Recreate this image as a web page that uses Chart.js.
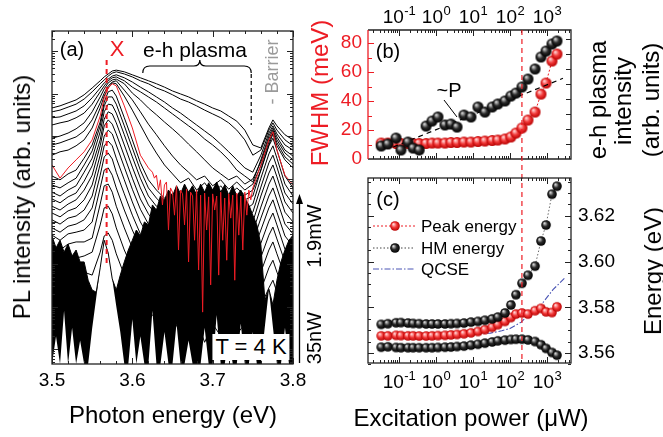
<!DOCTYPE html>
<html>
<head>
<meta charset="utf-8">
<script src="https://cdn.jsdelivr.net/npm/chart.js@4.4.1/dist/chart.umd.min.js"></script>
<style>
  html, body { margin: 0; padding: 0; background: #fff; }
  #wrap { position: relative; width: 663px; height: 437px; overflow: hidden; font-family: "Liberation Sans", Arial, sans-serif; }
  canvas { position: absolute; left: 0; top: 0; }
  .lab { position: absolute; white-space: nowrap; line-height: 1; transform: translate(-50%, -50%); color: #000; }
  .rot { transform: translate(-50%, -50%) rotate(-90deg); }
  .left { transform: translate(0, -50%); }
</style>
</head>
<body>
<div id="wrap">
  <canvas id="ca" width="663" height="437"></canvas>
  <canvas id="cb" width="663" height="437"></canvas>
  <canvas id="cc" width="663" height="437"></canvas>

  <!-- panel (a) -->
  <div class="lab" style="left:72px;top:49px;font-size:20px">(a)</div>
  <div class="lab" style="left:117px;top:49px;font-size:22px;color:#ed1c24">X</div>
  <div class="lab" style="left:195px;top:49px;font-size:21px">e-h plasma</div>
  <div class="lab rot" style="left:272px;top:72px;font-size:18px;color:#9a9a9a">- Barrier</div>
  <div class="lab" style="left:251px;top:347px;font-size:22px;background:#fff;padding:2px 3px">T = 4 K</div>
  <div class="lab rot" style="left:314px;top:236px;font-size:20px">1.9mW</div>
  <div class="lab rot" style="left:314px;top:338px;font-size:20px">35nW</div>
  <div class="lab" style="left:173px;top:415px;font-size:24px">Photon energy (eV)</div>
  <div class="lab rot" style="left:22px;top:197px;font-size:24px">PL intensity (arb. units)</div>

  <!-- panel (b) -->
  <div class="lab rot" style="left:320px;top:93px;font-size:24px;color:#ed1c24">FWHM (meV)</div>
  <div class="lab" style="left:388px;top:51px;font-size:20px">(b)</div>
  <div class="lab" style="left:449px;top:90px;font-size:20px">~P</div>
  <div class="lab rot" style="left:598px;top:100px;font-size:24px">e-h plasma</div>
  <div class="lab rot" style="left:623px;top:101px;font-size:24px">intensity</div>
  <div class="lab rot" style="left:651px;top:100px;font-size:24px">(arb. units)</div>

  <!-- panel (c) -->
  <div class="lab" style="left:388px;top:199px;font-size:20px">(c)</div>
  <div class="lab left" style="left:421px;top:226px;font-size:17px">Peak energy</div>
  <div class="lab left" style="left:421px;top:248px;font-size:17px">HM energy</div>
  <div class="lab left" style="left:421px;top:269px;font-size:17px">QCSE</div>
  <div class="lab rot" style="left:653px;top:271px;font-size:24px">Energy (eV)</div>
  <div class="lab" style="left:471px;top:418px;font-size:24px">Excitation power (μW)</div>
</div>

<script>
// ---------- panel (a): PL spectra, log10 of intensity ----------
const energy = [3.50, 3.51, 3.52, 3.53, 3.54, 3.55, 3.56, 3.565, 3.57, 3.575, 3.58, 3.59, 3.60, 3.61, 3.62, 3.63, 3.64,
  3.65, 3.66, 3.67, 3.68, 3.69, 3.70, 3.71, 3.72, 3.73, 3.74, 3.75, 3.76, 3.77, 3.775, 3.78, 3.79, 3.80];

// highlighted spectrum (red), sampled finer where it is noisy
const redEnergy = [3.50, 3.51, 3.52, 3.53, 3.54, 3.55, 3.56, 3.565, 3.57, 3.575, 3.58, 3.59, 3.60, 3.61, 3.62,
  3.625, 3.6275, 3.63, 3.6325, 3.635, 3.6375, 3.64, 3.6425, 3.645, 3.6475, 3.65, 3.6525, 3.655, 3.6575, 3.66, 3.6625,
  3.665, 3.6675, 3.67, 3.6725, 3.675, 3.6775, 3.68, 3.6825, 3.685, 3.6875, 3.69, 3.6925, 3.695, 3.6975, 3.70, 3.7025,
  3.705, 3.7075, 3.71, 3.7125, 3.715, 3.7175, 3.72, 3.7225, 3.725, 3.7275, 3.73, 3.7325, 3.735, 3.7375, 3.74, 3.7425,
  3.745, 3.7475, 3.75, 3.76, 3.77, 3.775, 3.78, 3.79, 3.80];
const specRed = [4.33, 4.02, 4.26, 4.45, 4.64, 4.92, 5.48, 5.91, 6.14, 6.24, 6.19, 5.72, 5.20, 4.56, 4.26,
  4.16, 4.02, 4.09, 3.74, 3.98, 3.39, 3.86, 3.93, 2.80, 3.79, 3.69, 3.15, 3.84, 2.33, 3.74, 3.65,
  2.92, 3.76, 2.05, 3.69, 3.60, 2.56, 3.74, 1.86, 3.62, 0.87, 3.67, 2.80, 3.58, 1.51, 3.65, 3.27,
  3.60, 1.74, 3.69, 2.56, 3.55, 2.09, 3.65, 3.08, 3.62, 1.62, 3.67, 2.68, 3.60, 2.33, 3.69, 3.15,
  3.74, 3.51, 3.79, 4.33, 4.92, 5.11, 4.68, 4.09, 3.86];

// black spectra, from 1.9 mW downwards
const spec00 = [5.67, 5.72, 5.79, 5.86, 5.98, 6.14, 6.31, 6.40, 6.47, 6.54, 6.56, 6.52, 6.45, 6.38, 6.31, 6.24, 6.16, 6.07, 6.00, 5.93, 5.84, 5.76, 5.67, 5.60, 5.48, 5.36, 5.15, 4.80, 4.73, 5.20, 5.39, 5.25, 5.04, 4.92];
const spec01 = [5.58, 5.62, 5.69, 5.76, 5.88, 6.05, 6.24, 6.33, 6.42, 6.49, 6.52, 6.47, 6.40, 6.31, 6.24, 6.14, 6.07, 5.98, 5.88, 5.81, 5.72, 5.62, 5.53, 5.44, 5.32, 5.15, 4.92, 4.56, 4.68, 5.15, 5.32, 5.15, 4.92, 4.78];
const spec02 = [5.44, 5.46, 5.53, 5.60, 5.72, 5.91, 6.14, 6.26, 6.35, 6.42, 6.45, 6.38, 6.28, 6.16, 6.05, 5.93, 5.81, 5.67, 5.55, 5.41, 5.27, 5.13, 4.99, 4.82, 4.64, 4.45, 4.26, 4.16, 4.56, 5.08, 5.25, 5.06, 4.80, 4.68];
const spec03 = [5.27, 5.32, 5.36, 5.44, 5.55, 5.76, 6.05, 6.19, 6.31, 6.38, 6.40, 6.31, 6.16, 6.05, 5.93, 5.81, 5.67, 5.53, 5.39, 5.25, 5.11, 4.94, 4.80, 4.64, 4.45, 4.21, 4.07, 3.93, 4.45, 5.01, 5.20, 4.99, 4.68, 4.54];
const spec04 = [4.96, 5.01, 5.08, 5.18, 5.32, 5.58, 5.93, 6.12, 6.26, 6.33, 6.35, 6.24, 6.02, 5.86, 5.67, 5.51, 5.34, 5.18, 5.01, 4.82, 4.64, 4.45, 4.26, 4.12, 3.98, 4.07, 3.88, 4.00, 4.40, 4.94, 5.15, 4.92, 4.61, 4.45];
const spec05 = [4.80, 4.85, 4.92, 4.99, 5.13, 5.39, 5.79, 6.02, 6.19, 6.28, 6.31, 6.09, 5.86, 5.58, 5.29, 5.04, 4.78, 4.54, 4.33, 4.16, 3.98, 4.07, 3.84, 3.98, 3.76, 3.93, 3.74, 3.88, 4.31, 4.87, 5.11, 4.85, 4.52, 4.35];
const spec06 = [4.56, 4.64, 4.68, 4.78, 4.92, 5.20, 5.67, 5.95, 6.14, 6.26, 6.24, 5.95, 5.62, 5.27, 4.92, 4.61, 4.33, 4.12, 3.91, 4.02, 3.74, 3.91, 3.65, 3.84, 3.60, 3.79, 3.62, 3.74, 4.21, 4.80, 5.06, 4.78, 4.45, 4.26];
const spec08 = [4.07, 3.98, 4.12, 4.21, 4.49, 4.80, 5.34, 5.81, 6.05, 6.09, 5.95, 5.44, 4.92, 4.38, 3.98, 3.74, 3.55, 3.39, 3.60, 3.27, 3.51, 3.15, 3.46, 3.22, 3.55, 3.31, 3.51, 3.60, 4.21, 4.78, 4.96, 4.68, 4.07, 3.79];
const spec09 = [3.86, 3.79, 3.91, 4.02, 4.33, 4.66, 5.25, 5.72, 5.93, 5.93, 5.76, 5.25, 4.73, 4.21, 3.79, 3.55, 3.36, 3.22, 3.41, 3.04, 3.32, 2.94, 3.27, 2.99, 3.36, 3.08, 3.27, 3.41, 4.02, 4.59, 4.78, 4.49, 3.88, 3.60];
const spec10 = [3.69, 3.60, 3.74, 3.84, 4.16, 4.49, 5.11, 5.58, 5.76, 5.74, 5.55, 5.04, 4.52, 4.02, 3.60, 3.36, 3.18, 2.99, 3.22, 2.85, 3.13, 2.75, 3.08, 2.80, 3.18, 2.89, 3.08, 3.22, 3.81, 4.38, 4.56, 4.28, 3.67, 3.41];
const spec11 = [3.53, 3.44, 3.58, 3.67, 3.95, 4.31, 4.92, 5.41, 5.58, 5.53, 5.32, 4.80, 4.28, 3.79, 3.39, 3.15, 2.96, 2.78, 3.01, 2.61, 2.92, 2.52, 2.85, 2.56, 2.96, 2.66, 2.85, 2.99, 3.60, 4.14, 4.33, 4.05, 3.46, 3.20];
const spec12 = [3.36, 3.27, 3.41, 3.51, 3.74, 4.09, 4.78, 5.25, 5.39, 5.29, 5.06, 4.54, 4.02, 3.53, 3.18, 2.92, 2.73, 2.54, 2.78, 2.38, 2.68, 2.28, 2.61, 2.33, 2.73, 2.42, 2.61, 2.75, 3.34, 3.88, 4.07, 3.79, 3.22, 2.99];
const spec13 = [3.20, 3.11, 3.25, 3.32, 3.51, 3.86, 4.56, 5.01, 5.15, 5.06, 4.80, 4.28, 3.76, 3.29, 2.94, 2.68, 2.49, 2.31, 2.54, 2.14, 2.45, 2.05, 2.38, 2.09, 2.49, 2.19, 2.38, 2.52, 3.08, 3.60, 3.79, 3.51, 2.94, 2.71];
const spec14 = [3.04, 2.94, 3.08, 3.13, 3.27, 3.60, 4.35, 4.78, 4.89, 4.78, 4.49, 3.98, 3.46, 2.99, 2.66, 2.42, 2.24, 2.05, 2.28, 1.91, 2.21, 1.81, 2.14, 1.86, 2.26, 1.95, 2.14, 2.28, 2.80, 3.32, 3.51, 3.22, 2.66, 2.42];
const spec15 = [2.85, 2.75, 2.89, 2.94, 3.04, 3.32, 4.09, 4.52, 4.61, 4.47, 4.16, 3.65, 3.15, 2.71, 2.38, 2.14, 1.95, 1.76, 2.05, 1.62, 1.95, 1.53, 1.86, 1.58, 2.00, 1.67, 1.86, 2.00, 2.49, 3.01, 3.20, 2.92, 2.35, 2.14];
const spec16 = [2.68, 2.56, 2.71, 2.75, 2.80, 2.99, 3.79, 4.21, 4.26, 4.09, 3.79, 3.27, 2.80, 2.38, 2.09, 1.86, 1.67, 1.44, 1.76, 1.34, 1.67, 1.25, 1.58, 1.29, 1.72, 1.39, 1.58, 1.72, 2.16, 2.68, 2.87, 2.59, 2.05, 1.86];
const spec17 = [2.45, 2.33, 2.47, 2.52, 2.52, 2.61, 3.41, 3.84, 3.88, 3.69, 3.36, 2.85, 2.38, 2.00, 1.72, 1.53, 1.34, 1.15, 1.48, 1.06, 1.39, 0.96, 1.29, 1.01, 1.44, 1.11, 1.29, 1.44, 1.81, 2.33, 2.52, 2.24, 1.72, 1.53];
const spec18 = [2.21, 2.05, 2.19, 2.14, 2.19, 2.28, 2.92, 3.32, 3.36, 3.18, 2.85, 2.33, 1.91, 1.58, 1.34, 1.15, 0.96, 0.78, 1.15, 0.68, 1.06, 0.59, 0.96, 0.68, 1.11, 0.73, 0.96, 1.11, 1.39, 1.91, 2.09, 1.81, 1.34, 1.15];
const spec19 = [1.91, 1.72, 1.86, 1.76, 1.81, 1.74, 2.28, 2.66, 2.73, 2.56, 2.24, 1.74, 1.34, 1.06, 0.87, 0.73, 0.54, 0.35, 0.78, 0.26, 0.68, 0.16, 0.59, 0.31, 0.73, 0.35, 0.59, 0.73, 1.01, 1.44, 1.62, 1.34, 0.92, 0.73];

// dense noise of the low-power spectra: upper and lower edge of the dark band
const noiseEnergy = [3.500, 3.505, 3.510, 3.515, 3.520, 3.525, 3.530, 3.535, 3.540, 3.545, 3.550, 3.555, 3.560, 3.565,
  3.570, 3.575, 3.580, 3.585, 3.590, 3.595, 3.600, 3.605, 3.610, 3.615, 3.620, 3.625, 3.630, 3.635, 3.640, 3.645, 3.650,
  3.655, 3.660, 3.665, 3.670, 3.675, 3.680, 3.685, 3.690, 3.695, 3.700, 3.705, 3.710, 3.715, 3.720, 3.725, 3.730, 3.735,
  3.740, 3.745, 3.750, 3.755, 3.760, 3.765, 3.770, 3.775, 3.780, 3.785, 3.790, 3.795, 3.800];
const noiseTop = [2.66, 2.38, 2.56, 2.28, 2.47, 2.19, 2.33, 2.05, 2.05, 1.62, 1.39, 1.34, 1.91, 2.56, 2.26, 1.65, 1.39,
  1.74, 2.05, 2.33, 2.56, 2.80, 2.66, 2.99, 2.92, 3.39, 3.27, 3.60, 3.51, 3.74, 3.60, 3.84, 3.65, 3.88, 3.69, 3.84, 3.62,
  3.88, 3.69, 3.91, 3.74, 3.93, 3.69, 3.86, 3.62, 3.84, 3.60, 3.74, 3.55, 3.39, 3.15, 2.92, 2.45, 1.15, 1.41, 1.04, 1.62,
  2.05, 2.33, 2.56, 2.68];
const noiseBottom = [-0.35, 0.30, -0.35, 0.90, -0.35, 0.50, -0.35, 0.20, -0.35, -0.35, 0.49, 1.20, 1.91, 2.56, 2.26,
  1.65, 1.01, 0.40, -0.35, -0.35, 0.70, -0.35, 0.30, -0.35, -0.35, 0.90, -0.35, -0.35, 0.40, -0.35, -0.35, 0.60,
  -0.35, -0.35, 0.20, -0.35, -0.35, -0.35, 0.50, -0.35, -0.35, 0.80, -0.35, -0.35, 0.30, -0.35, -0.35, 0.60, -0.35,
  -0.35, 0.40, -0.35, -0.35, 0.54, 1.41, 0.52, -0.35, -0.35, 0.50, -0.35, -0.35];

// ---------- panels (b) and (c): versus excitation power (µW) ----------
const power = [0.033, 0.05, 0.083, 0.113, 0.175, 0.24, 0.35, 0.54, 0.78, 1.13, 1.75, 2.54, 3.7, 5.7, 8.8, 13.6, 21, 33,
  47, 73, 106, 145, 211, 306, 474, 688, 940, 1365, 1860];
const fwhm = [11.0, 11.0, 10.7, 10.7, 10.7, 10.7, 10.7, 10.7, 11.0, 11.0, 11.0, 11.4, 11.4, 11.7, 11.7, 12.1, 12.4, 12.8,
  13.1, 13.8, 15.2, 17.9, 21.4, 26.9, 32.4, 44.8, 52.4, 67.6, 72.4];
const plasmaIntensity = [7.4, 10, 25, 4.0, 13.5, 5.4, 4.0, 158, 339, 631, 186, 214, 135, 851, 631, 2950, 1350, 2950,
  4680, 7410, 15800, 25100, 63100, 214000, 1.0e6, 6.31e6, 1.58e7, 4.68e7, 7.41e7];
const linearFitPower = [0.07, 2700];
const linearFitIntensity = [6.3, 2.4e5];
const thresholdPower = 210;

const peakEnergy = [3.5675, 3.5675, 3.5677, 3.5676, 3.5675, 3.5675, 3.5674, 3.5674, 3.5675, 3.5676, 3.5677, 3.5679,
  3.5681, 3.5684, 3.5688, 3.5694, 3.5702, 3.5712, 3.5724, 3.5738, 3.5755, 3.5770, 3.5775, 3.5770, 3.5785, 3.5795,
  3.5780, 3.5777, 3.5802];
const hmHigh = [3.5725, 3.5728, 3.5732, 3.5733, 3.5731, 3.5729, 3.5728, 3.5727, 3.5727, 3.5727, 3.5727, 3.5728, 3.5729,
  3.5731, 3.5735, 3.5738, 3.5743, 3.5749, 3.5757, 3.5775, 3.5810, 3.5855, 3.5905, 3.5940, 3.5980, 3.6090, 3.6160,
  3.6295, 3.6330];
const hmLow = [3.5625, 3.5627, 3.5624, 3.5623, 3.5623, 3.5623, 3.5623, 3.5623, 3.5623, 3.5624, 3.5625, 3.5626, 3.5628,
  3.5630, 3.5634, 3.5638, 3.5643, 3.5648, 3.5653, 3.5656, 3.5659, 3.5660, 3.5660, 3.5657, 3.5650, 3.5636, 3.5620,
  3.5602, 3.5590];
const qcsePower = [0.33, 1, 10, 30, 60, 100, 200, 290, 650, 1450, 3100];
const qcseEnergy = [3.5682, 3.5682, 3.5683, 3.5687, 3.5697, 3.5707, 3.5735, 3.5760, 3.5804, 3.5877, 3.5930];

// ---------- helpers ----------
const RED = '#ed1c24';
const BLUE = '#4a55b5';
const FONT = '"Liberation Sans", Arial, sans-serif';
const W = 663, H = 437;

const xy = (xs, ys) => xs.map((x, i) => ({ x, y: ys[i] }));
const px = v => Math.round(v) + 0.5;

function ball(r, c0, c1, c2) {
  const s = Math.ceil(2 * r + 2);
  const cv = document.createElement('canvas');
  cv.width = cv.height = s;
  const g = cv.getContext('2d');
  const grad = g.createRadialGradient(s / 2 - r * 0.35, s / 2 - r * 0.4, r * 0.08, s / 2, s / 2, r);
  grad.addColorStop(0, c0);
  grad.addColorStop(0.5, c1);
  grad.addColorStop(1, c2);
  g.fillStyle = grad;
  g.beginPath();
  g.arc(s / 2, s / 2, r, 0, Math.PI * 2);
  g.fill();
  return cv;
}
const blackBallB = ball(5.5, '#d8d8d8', '#2a2a2a', '#000');
const redBallB = ball(5.5, '#ffd6d6', '#f23a3a', '#b80000');
const blackBallC = ball(4.8, '#d8d8d8', '#2a2a2a', '#000');
const redBallC = ball(4.8, '#ffd6d6', '#f23a3a', '#b80000');

function drawTicks(c, scale, vals, side, len, a) {
  c.beginPath();
  vals.forEach(v => {
    const p = px(scale.getPixelForValue(v));
    if (side === 'bottom') { c.moveTo(p, a.bottom); c.lineTo(p, a.bottom - len); }
    if (side === 'top') { c.moveTo(p, a.top); c.lineTo(p, a.top + len); }
    if (side === 'left') { c.moveTo(a.left, p); c.lineTo(a.left + len, p); }
    if (side === 'right') { c.moveTo(a.right, p); c.lineTo(a.right - len, p); }
  });
  c.stroke();
}

function logTickValues(min, max) {
  const major = [], minor = [];
  for (let k = Math.floor(Math.log10(min)); k <= Math.ceil(Math.log10(max)); k++) {
    for (let m = 1; m <= 9; m++) {
      const v = m * Math.pow(10, k);
      if (v < min || v > max) continue;
      (m === 1 ? major : minor).push(v);
    }
  }
  return { major, minor };
}

function powLabel(c, x, y, exp) {
  c.textBaseline = 'middle';
  c.textAlign = 'left';
  c.font = '19px ' + FONT;
  const w1 = c.measureText('10').width;
  c.font = '13px ' + FONT;
  const w2 = c.measureText(exp).width;
  const left = x - (w1 + w2) / 2;
  c.font = '19px ' + FONT;
  c.fillText('10', left, y);
  c.font = '13px ' + FONT;
  c.fillText(exp, left + w1 + 0.5, y - 7);
}

const baseOptions = (pad) => ({
  responsive: false,
  animation: false,
  devicePixelRatio: 1,
  events: [],
  layout: { padding: pad },
  plugins: { legend: { display: false }, tooltip: { enabled: false } },
  elements: { line: { tension: 0 } }
});

// ---------- chart (a) ----------
const blackSpectra = [spec00, spec01, spec02, spec03, spec04, spec05, spec06, spec08, spec09, spec10, spec11, spec12,
  spec13, spec14, spec15, spec16, spec17, spec18, spec19];

const dsA = [{ data: xy(redEnergy, specRed), borderColor: RED, borderWidth: 1, pointRadius: 0, fill: false }];
blackSpectra.forEach(s => dsA.push({ data: xy(energy, s), borderColor: '#000', borderWidth: 1, pointRadius: 0, fill: false }));
dsA.push({ data: xy(noiseEnergy, noiseTop), borderColor: '#000', borderWidth: 1, pointRadius: 0, backgroundColor: '#000', fill: '+1' });
dsA.push({ data: xy(noiseEnergy, noiseBottom), borderColor: 'rgba(0,0,0,0)', borderWidth: 0, pointRadius: 0, fill: false });

const decoA = {
  id: 'decoA',
  afterDraw(chart) {
    const c = chart.ctx, a = chart.chartArea, sx = chart.scales.x, sy = chart.scales.y;
    c.save();
    // red dashed line at the exciton
    c.strokeStyle = RED; c.lineWidth = 2; c.setLineDash([5, 4]);
    c.beginPath();
    c.moveTo(sx.getPixelForValue(3.568), 60); c.lineTo(sx.getPixelForValue(3.568), 265);
    c.stroke();
    // brace over the e-h plasma and its dashed end
    const x1 = sx.getPixelForValue(3.613), xm = sx.getPixelForValue(3.684), x2 = sx.getPixelForValue(3.748);
    c.setLineDash([]); c.strokeStyle = '#000'; c.lineWidth = 1.2;
    c.beginPath();
    c.moveTo(x1, 73); c.quadraticCurveTo(x1, 66, x1 + 7, 66);
    c.lineTo(xm - 6, 66); c.quadraticCurveTo(xm, 66, xm, 60);
    c.quadraticCurveTo(xm, 66, xm + 6, 66);
    c.lineTo(x2 - 7, 66); c.quadraticCurveTo(x2, 66, x2, 73);
    c.stroke();
    c.setLineDash([4, 3]);
    c.beginPath(); c.moveTo(x2, 74); c.lineTo(x2, 125); c.stroke();
    c.setLineDash([]);
    // frame and ticks
    c.strokeStyle = '#222'; c.lineWidth = 1.3;
    c.strokeRect(a.left, a.top, a.right - a.left, a.bottom - a.top);
    c.lineWidth = 1;
    const xMajor = [3.5, 3.6, 3.7, 3.8], xMinor = [];
    for (let i = 1; i < 15; i++) if (i % 5) xMinor.push(3.5 + i * 0.02);
    drawTicks(c, sx, xMajor, 'bottom', 6, a); drawTicks(c, sx, xMajor, 'top', 6, a);
    drawTicks(c, sx, xMinor, 'bottom', 3, a); drawTicks(c, sx, xMinor, 'top', 3, a);
    const yMajor = [], yMinor = [];
    for (let k = -1; k <= 7; k++) {
      if (k >= sy.min && k <= sy.max) yMajor.push(k);
      for (let m = 2; m <= 9; m++) { const v = k + Math.log10(m); if (v >= sy.min && v <= sy.max) yMinor.push(v); }
    }
    drawTicks(c, sy, yMajor, 'left', 6, a); drawTicks(c, sy, yMajor, 'right', 6, a);
    drawTicks(c, sy, yMinor, 'left', 3, a); drawTicks(c, sy, yMinor, 'right', 3, a);
    // tick labels
    c.fillStyle = '#000'; c.font = '19px ' + FONT; c.textAlign = 'center'; c.textBaseline = 'middle';
    xMajor.forEach(v => c.fillText(v.toFixed(1), sx.getPixelForValue(v), 381));
    // power arrow
    c.strokeStyle = '#000'; c.lineWidth = 1.3;
    c.beginPath(); c.moveTo(299.5, 363); c.lineTo(299.5, 200); c.stroke();
    c.beginPath(); c.moveTo(299.5, 194); c.lineTo(296, 204); c.lineTo(303, 204); c.closePath();
    c.fillStyle = '#000'; c.fill();
    c.restore();
  }
};

new Chart(document.getElementById('ca'), {
  type: 'line',
  data: { datasets: dsA },
  options: Object.assign(baseOptions({ left: 52, top: 31, right: W - 293, bottom: H - 364 }), {
    scales: {
      x: { type: 'linear', min: 3.5, max: 3.8, display: false },
      y: { type: 'linear', min: -0.35, max: 7.48, display: false }
    }
  }),
  plugins: [decoA]
});

// ---------- chart (b) ----------
const X_MIN = 0.01452, X_MAX = 4454;

const decoB = {
  id: 'decoB',
  afterDraw(chart) {
    const c = chart.ctx, a = chart.chartArea, sx = chart.scales.x, sy = chart.scales.y, sy2 = chart.scales.y2;
    c.save();
    // pointer of the ~P label
    c.strokeStyle = '#000'; c.lineWidth = 1;
    c.beginPath(); c.moveTo(444, 100); c.lineTo(457, 117); c.stroke();
    // frame
    c.lineWidth = 1.3; c.strokeStyle = '#222';
    c.beginPath();
    c.moveTo(a.left, a.top); c.lineTo(a.right, a.top); c.lineTo(a.right, a.bottom); c.lineTo(a.left, a.bottom);
    c.stroke();
    c.strokeStyle = RED;
    c.beginPath(); c.moveTo(a.left, a.top); c.lineTo(a.left, a.bottom); c.stroke();
    c.lineWidth = 1;
    const lt = logTickValues(X_MIN, X_MAX);
    c.strokeStyle = '#222';
    drawTicks(c, sx, lt.major, 'top', 6, a); drawTicks(c, sx, lt.minor, 'top', 3, a);
    drawTicks(c, sx, lt.major, 'bottom', 6, a); drawTicks(c, sx, lt.minor, 'bottom', 3, a);
    const dec = [];
    for (let k = 1; k <= 8; k++) dec.push(Math.pow(10, k));
    drawTicks(c, sy2, dec, 'right', 5, a);
    c.strokeStyle = RED;
    drawTicks(c, sy, [20, 40, 60, 80], 'left', 6, a);
    drawTicks(c, sy, [10, 30, 50, 70], 'left', 4, a);
    // labels
    c.fillStyle = '#000';
    [-1, 0, 1, 2, 3].forEach(k => powLabel(c, sx.getPixelForValue(Math.pow(10, k)), 18, String(k)));
    c.fillStyle = RED; c.font = '19px ' + FONT; c.textAlign = 'right'; c.textBaseline = 'middle';
    [0, 20, 40, 60, 80].forEach(v => c.fillText(String(v), a.left - 6, sy.getPixelForValue(v)));
    c.restore();
  }
};

new Chart(document.getElementById('cb'), {
  type: 'line',
  data: {
    datasets: [
      { data: xy(power, plasmaIntensity), yAxisID: 'y2', showLine: false, pointStyle: blackBallB, pointRadius: 5.5 },
      { data: xy(linearFitPower, linearFitIntensity), yAxisID: 'y2', borderColor: '#000', borderWidth: 1.2, borderDash: [5, 4], pointRadius: 0 },
      { data: xy(power, fwhm), yAxisID: 'y', borderColor: RED, borderWidth: 1, borderDash: [2, 2], pointStyle: redBallB, pointRadius: 5.5 }
    ]
  },
  options: Object.assign(baseOptions({ left: 368, top: 30, right: W - 571, bottom: H - 159 }), {
    scales: {
      x: { type: 'logarithmic', min: X_MIN, max: X_MAX, display: false },
      y: { type: 'linear', min: 0, max: 89, display: false },
      y2: { type: 'logarithmic', min: 1, max: 3.98e8, display: false }
    }
  }),
  plugins: [decoB]
});

// ---------- chart (c) ----------
const decoC = {
  id: 'decoC',
  afterDraw(chart) {
    const c = chart.ctx, a = chart.chartArea, sx = chart.scales.x, sy = chart.scales.y;
    c.save();
    // threshold line across (b) and (c)
    const xt = sx.getPixelForValue(thresholdPower);
    c.strokeStyle = RED; c.lineWidth = 1.2; c.setLineDash([5, 4]);
    c.beginPath(); c.moveTo(xt, 30); c.lineTo(xt, 363); c.stroke();
    c.setLineDash([]);
    // frame and ticks
    c.strokeStyle = '#222'; c.lineWidth = 1.3;
    c.strokeRect(a.left, a.top, a.right - a.left, a.bottom - a.top);
    c.lineWidth = 1;
    const lt = logTickValues(X_MIN, X_MAX);
    drawTicks(c, sx, lt.major, 'top', 6, a); drawTicks(c, sx, lt.minor, 'top', 3, a);
    drawTicks(c, sx, lt.major, 'bottom', 6, a); drawTicks(c, sx, lt.minor, 'bottom', 3, a);
    const yMajor = [3.56, 3.58, 3.60, 3.62], yMinor = [];
    for (let i = 0; i <= 16; i++) { const v = 3.555 + i * 0.005; if (v <= sy.max) yMinor.push(v); }
    drawTicks(c, sy, yMajor, 'left', 6, a); drawTicks(c, sy, yMajor, 'right', 6, a);
    drawTicks(c, sy, yMinor, 'left', 3, a); drawTicks(c, sy, yMinor, 'right', 3, a);
    // labels
    c.fillStyle = '#000';
    [-1, 0, 1, 2, 3].forEach(k => powLabel(c, sx.getPixelForValue(Math.pow(10, k)), 383, String(k)));
    c.font = '19px ' + FONT; c.textAlign = 'left'; c.textBaseline = 'middle';
    yMajor.forEach(v => c.fillText(v.toFixed(2), a.right + 7, sy.getPixelForValue(v)));
    // legend samples
    c.lineWidth = 1;
    c.strokeStyle = RED; c.setLineDash([2, 2]);
    c.beginPath(); c.moveTo(373, 226); c.lineTo(415, 226); c.stroke();
    c.strokeStyle = '#444'; c.setLineDash([1.5, 2]);
    c.beginPath(); c.moveTo(373, 248); c.lineTo(415, 248); c.stroke();
    c.strokeStyle = BLUE; c.setLineDash([6, 2, 1.5, 2]);
    c.beginPath(); c.moveTo(373, 269); c.lineTo(415, 269); c.stroke();
    c.setLineDash([]);
    c.drawImage(redBallC, 395 - redBallC.width / 2, 226 - redBallC.height / 2);
    c.drawImage(blackBallC, 395 - blackBallC.width / 2, 248 - blackBallC.height / 2);
    c.restore();
  }
};

new Chart(document.getElementById('cc'), {
  type: 'line',
  data: {
    datasets: [
      { data: xy(power, hmHigh), borderColor: '#444', borderWidth: 0.8, borderDash: [1.5, 2], pointStyle: blackBallC, pointRadius: 4.8 },
      { data: xy(power, peakEnergy), borderColor: RED, borderWidth: 0.8, borderDash: [2, 2], pointStyle: redBallC, pointRadius: 4.8 },
      { data: xy(power, hmLow), borderColor: '#444', borderWidth: 0.8, borderDash: [1.5, 2], pointStyle: blackBallC, pointRadius: 4.8 },
      { data: xy(qcsePower, qcseEnergy), borderColor: BLUE, borderWidth: 1.1, borderDash: [6, 2, 1.5, 2], pointRadius: 0 }
    ]
  },
  options: Object.assign(baseOptions({ left: 368, top: 178, right: W - 571, bottom: H - 363 }), {
    scales: {
      x: { type: 'logarithmic', min: X_MIN, max: X_MAX, display: false },
      y: { type: 'linear', min: 3.5556, max: 3.6366, display: false }
    }
  }),
  plugins: [decoC]
});
</script>
</body>
</html>
